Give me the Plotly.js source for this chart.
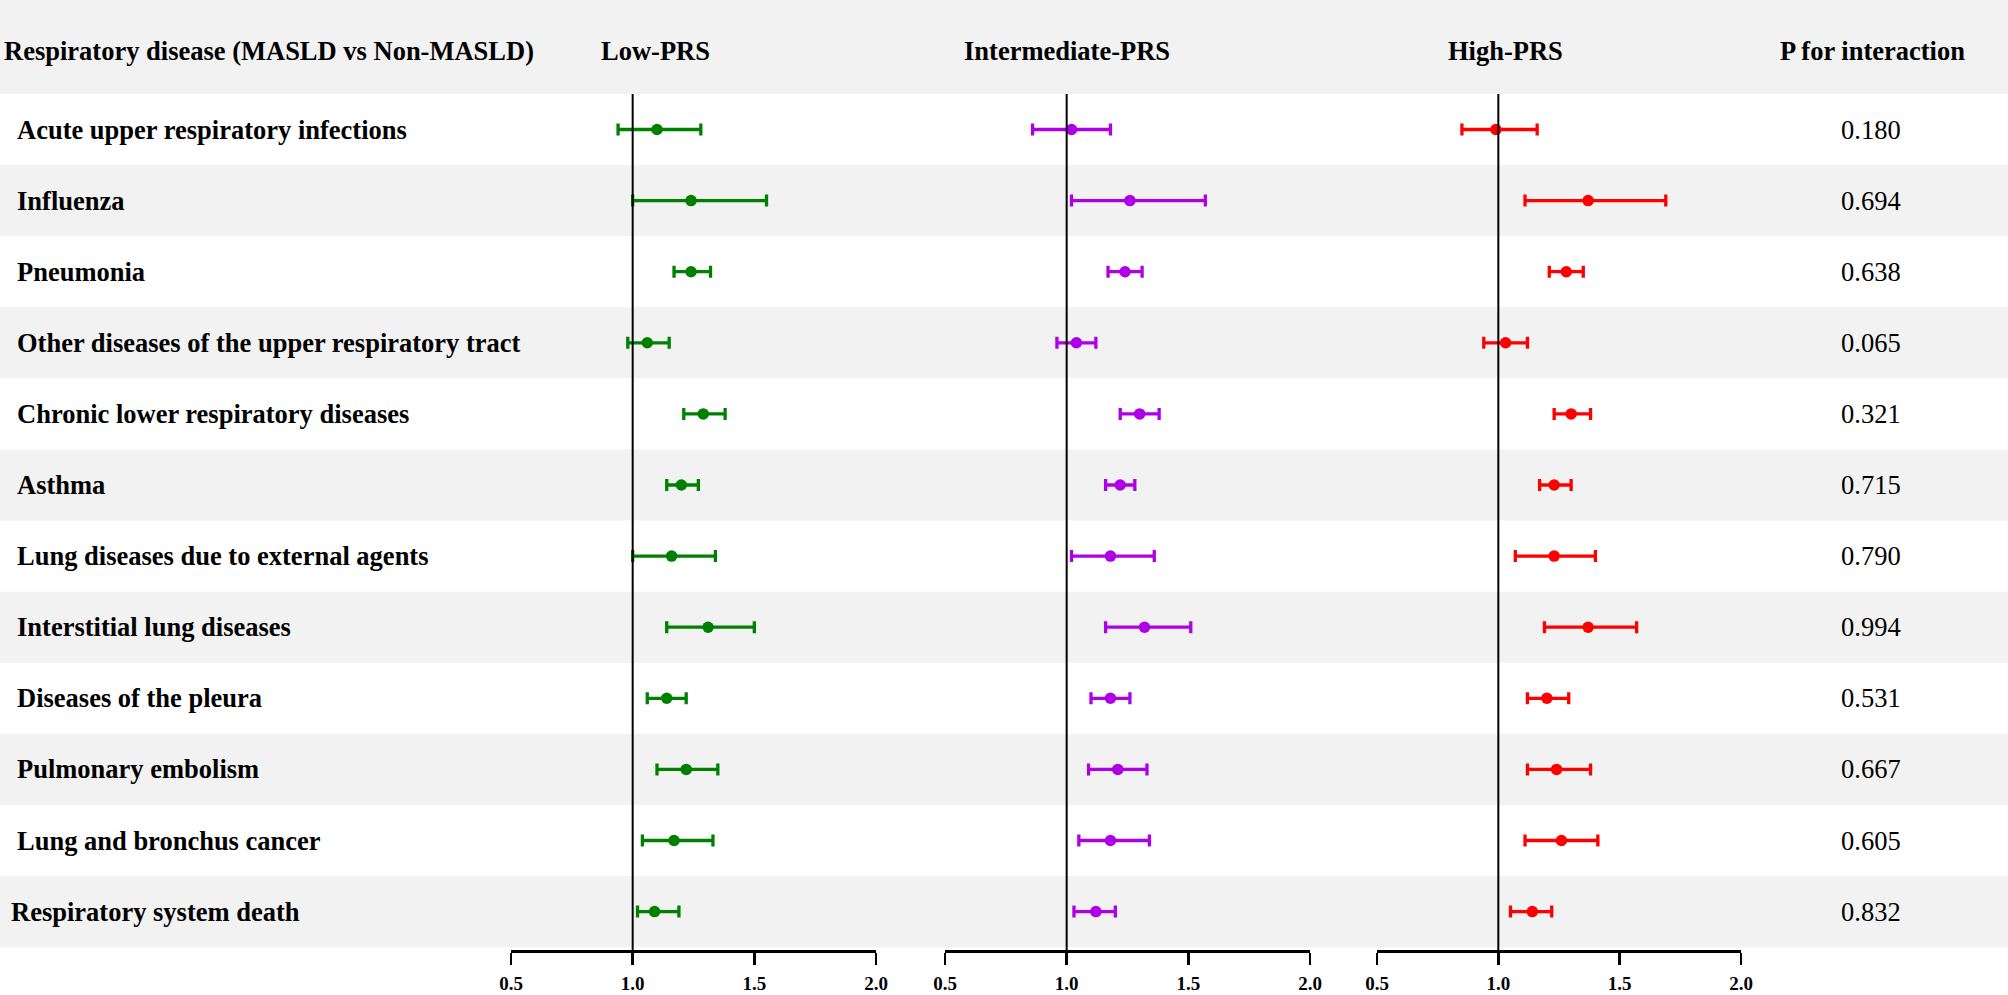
<!DOCTYPE html>
<html>
<head>
<meta charset="utf-8">
<script src="https://cdn.plot.ly/plotly-3.0.1.min.js"></script>
<style>html,body{margin:0;padding:0;background:#fff;}#chart{width:2008px;height:995px;}</style>
</head>
<body>
<div id="chart"></div>
<script>
const diseases = [
  "Acute upper respiratory infections",
  "Influenza",
  "Pneumonia",
  "Other diseases of the upper respiratory tract",
  "Chronic lower respiratory diseases",
  "Asthma",
  "Lung diseases due to external agents",
  "Interstitial lung diseases",
  "Diseases of the pleura",
  "Pulmonary embolism",
  "Lung and bronchus cancer",
  "Respiratory system death"
];
const pInteraction = ["0.180","0.694","0.638","0.065","0.321","0.715","0.790","0.994","0.531","0.667","0.605","0.832"];

const lowHR = [1.10,1.24,1.24,1.06,1.29,1.20,1.16,1.31,1.14,1.22,1.17,1.09];
const lowLo = [0.94,1.00,1.17,0.98,1.21,1.14,1.00,1.14,1.06,1.10,1.04,1.02];
const lowHi = [1.28,1.55,1.32,1.15,1.38,1.27,1.34,1.50,1.22,1.35,1.33,1.19];

const intHR = [1.02,1.26,1.24,1.04,1.30,1.22,1.18,1.32,1.18,1.21,1.18,1.12];
const intLo = [0.86,1.02,1.17,0.96,1.22,1.16,1.02,1.16,1.10,1.09,1.05,1.03];
const intHi = [1.18,1.57,1.31,1.12,1.38,1.28,1.36,1.51,1.26,1.33,1.34,1.20];

const highHR = [0.99,1.37,1.28,1.03,1.30,1.23,1.23,1.37,1.20,1.24,1.26,1.14];
const highLo = [0.85,1.11,1.21,0.94,1.23,1.17,1.07,1.19,1.12,1.12,1.11,1.05];
const highHi = [1.16,1.69,1.35,1.12,1.38,1.30,1.40,1.57,1.29,1.38,1.41,1.22];

const tickVals = [0.5, 1.0, 1.5, 2.0];
const tickText = ["0.5", "1.0", "1.5", "2.0"];
const panelTitles = ["Low-PRS", "Intermediate-PRS", "High-PRS"];
const headerLabel = "Respiratory disease (MASLD vs Non-MASLD)";
const pHeader = "P for interaction";

const W = 2008, H = 995;
const rowTop = 129.5, rowH = 71.1;
const axisPx = 951;
const rows = diseases.map((d, i) => i + 1);
const pxToY = p => (p - rowTop) / rowH + 1;
const serif = '"Liberation Serif", "Times New Roman", Times, serif';
const FS = 26.5;

function panel(hr, lo, hi, color, xa) {
  return {
    type: 'scatter', mode: 'markers',
    x: hr, y: rows, xaxis: xa, yaxis: 'y',
    marker: {color: color, size: 11.5},
    error_x: {type: 'data', symmetric: false,
      array: hi.map((v, i) => v - hr[i]),
      arrayminus: hr.map((v, i) => v - lo[i]),
      color: color, thickness: 3.3, width: 6},
    hoverinfo: 'x', showlegend: false, cliponaxis: false
  };
}

const data = [
  panel(lowHR, lowLo, lowHi, '#008000', 'x'),
  panel(intHR, intLo, intHi, '#AE00E6', 'x2'),
  panel(highHR, highLo, highHi, '#FF0000', 'x3')
];

const shapes = [];
shapes.push({type: 'rect', xref: 'paper', yref: 'y', x0: 0, x1: 1, y0: pxToY(0), y1: 0.5,
  fillcolor: '#f2f2f2', line: {width: 0}, layer: 'below'});
rows.forEach((r, i) => {
  if (i % 2 === 1) {
    shapes.push({type: 'rect', xref: 'paper', yref: 'y', x0: 0, x1: 1, y0: r - 0.5, y1: r + 0.5,
      fillcolor: '#f2f2f2', line: {width: 0}, layer: 'below'});
  }
});
['x', 'x2', 'x3'].forEach(xa => {
  shapes.push({type: 'line', xref: xa, yref: 'y', x0: 1, x1: 1, y0: 0.5, y1: pxToY(axisPx),
    line: {color: '#000', width: 2}});
});

const annotations = [];
const headY = 1 - 51 / H;
annotations.push({xref: 'paper', yref: 'paper', x: 2 / W, y: headY, xanchor: 'left', yanchor: 'middle',
  text: headerLabel, showarrow: false, font: {family: serif, size: FS, color: '#000', weight: 'bold'}});
const titleX = [655, 1067, 1505];
panelTitles.forEach((t, i) => {
  annotations.push({xref: 'paper', yref: 'paper', x: titleX[i] / W, y: headY, xanchor: 'center', yanchor: 'middle',
    text: t, showarrow: false, font: {family: serif, size: FS, color: '#000', weight: 'bold'}});
});
annotations.push({xref: 'paper', yref: 'paper', x: 1872 / W, y: headY, xanchor: 'center', yanchor: 'middle',
  text: pHeader, showarrow: false, font: {family: serif, size: FS, color: '#000', weight: 'bold'}});
diseases.forEach((d, i) => {
  annotations.push({xref: 'paper', yref: 'y', x: (i === 11 ? 9 : 15) / W, y: rows[i], xanchor: 'left', yanchor: 'middle',
    text: d, showarrow: false, font: {family: serif, size: FS, color: '#000', weight: 'bold'}});
  annotations.push({xref: 'paper', yref: 'y', x: 1871 / W, y: rows[i], xanchor: 'center', yanchor: 'middle',
    text: pInteraction[i], showarrow: false, font: {family: serif, size: FS, color: '#000'}});
});

function xaxis(x0, x1) {
  return {domain: [x0 / W, x1 / W], range: [0.5, 2.0], anchor: 'free', position: 1 - axisPx / H,
    showline: true, linecolor: '#000', linewidth: 2.5, ticks: 'outside', ticklen: 12, tickwidth: 2.5, tickcolor: '#000',
    tickvals: tickVals, ticktext: tickText, showgrid: false, zeroline: false, fixedrange: true,
    ticklabelstandoff: 3,
    tickfont: {family: serif, size: 19, color: '#000', weight: 'bold'}};
}

const layout = {
  width: W, height: H,
  margin: {l: 0, r: 0, t: 0, b: 0},
  paper_bgcolor: '#fff', plot_bgcolor: 'rgba(0,0,0,0)',
  showlegend: false,
  xaxis: xaxis(511, 876),
  xaxis2: xaxis(945, 1310),
  xaxis3: xaxis(1377, 1741),
  yaxis: {domain: [0, 1], range: [pxToY(H), pxToY(0)], visible: false, fixedrange: true},
  shapes: shapes,
  annotations: annotations
};

Plotly.newPlot('chart', data, layout, {displayModeBar: false, staticPlot: true});
</script>
</body>
</html>
